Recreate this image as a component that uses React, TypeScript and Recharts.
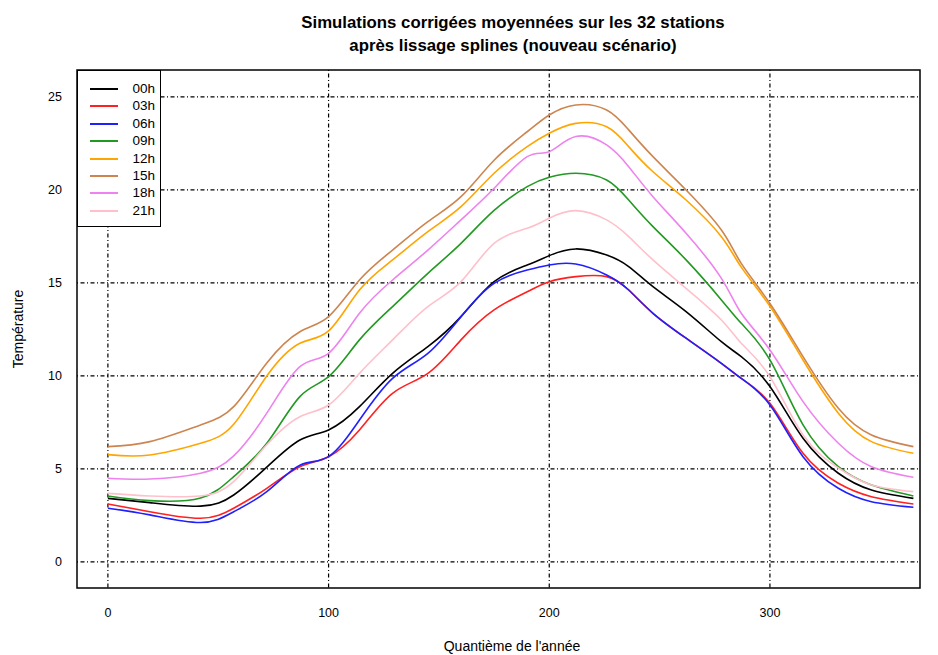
import React from "react";
import {
  LineChart,
  Line,
  XAxis,
  YAxis,
  CartesianGrid,
  ReferenceArea,
} from "recharts";

// day of year (quantième) at which each series is sampled
const days = [0, 19, 42, 57, 72, 87, 100, 114, 129, 145, 160, 175, 190, 200, 212, 226, 236, 247, 262, 278, 287, 300, 315, 331, 346, 365];

const h00 = [3.42, 3.19, 3.0, 3.6, 5.1, 6.56, 7.1, 8.35, 10.14, 11.58, 13.19, 15.07, 15.97, 16.47, 16.83, 16.5, 15.88, 14.8, 13.46, 11.84, 11.04, 9.43, 6.65, 4.77, 3.87, 3.42];
const h03 = [3.12, 2.7, 2.35, 2.89, 3.96, 5.12, 5.66, 7.1, 9.07, 10.14, 11.94, 13.55, 14.53, 15.07, 15.34, 15.34, 14.62, 13.37, 12.03, 10.68, 9.87, 8.53, 5.84, 4.23, 3.51, 3.12];
const h06 = [2.89, 2.53, 2.12, 2.7, 3.78, 5.2, 5.66, 7.63, 9.87, 11.22, 13.19, 14.98, 15.7, 15.97, 16.02, 15.43, 14.62, 13.37, 12.03, 10.68, 9.87, 8.44, 5.66, 3.96, 3.24, 2.94];
const h09 = [3.55, 3.3, 3.44, 4.59, 6.38, 8.89, 9.96, 11.94, 13.73, 15.52, 17.13, 18.9, 20.18, 20.68, 20.9, 20.54, 19.46, 18.03, 16.24, 14.09, 12.83, 10.86, 7.37, 5.12, 4.14, 3.55];
const h12 = [5.77, 5.75, 6.38, 7.4, 10.0, 11.76, 12.42, 14.62, 16.24, 17.76, 19.1, 20.9, 22.33, 23.05, 23.58, 23.4, 22.33, 20.98, 19.46, 17.49, 15.85, 13.75, 10.86, 8.0, 6.47, 5.84];
const h15 = [6.2, 6.47, 7.37, 8.35, 10.7, 12.38, 13.19, 15.16, 16.77, 18.3, 19.64, 21.6, 23.13, 24.03, 24.57, 24.3, 23.23, 21.79, 20.0, 17.85, 16.05, 13.9, 11.04, 8.26, 6.83, 6.2];
const h18 = [4.5, 4.46, 4.77, 5.7, 8.0, 10.5, 11.22, 13.37, 15.16, 16.77, 18.39, 20.09, 21.79, 22.06, 22.87, 22.42, 21.25, 19.64, 17.67, 15.25, 13.37, 11.4, 8.62, 6.38, 5.12, 4.55];
const h21 = [3.69, 3.55, 3.55, 4.32, 6.3, 7.81, 8.44, 10.14, 11.94, 13.73, 15.07, 17.13, 17.94, 18.48, 18.89, 18.39, 17.49, 16.24, 14.71, 13.01, 11.76, 9.96, 6.83, 5.05, 4.14, 3.78];

const seriesNames = ["00h", "03h", "06h", "09h", "12h", "15h", "18h", "21h"];
const seriesValues = [h00, h03, h06, h09, h12, h15, h18, h21];
const seriesColors = ["#000000", "#ff2020", "#2020ff", "#229922", "#ffa500", "#cd8550", "#ee82ee", "#ffc0cb"];

const xTicks = [0, 100, 200, 300];
const yTicks = [0, 5, 10, 15, 20, 25];

const X_DOMAIN: [number, number] = [-14, 368];
const Y_DOMAIN: [number, number] = [-1.4, 26.45];

const data = days.map((d, i) => {
  const row: Record<string, number> = { day: d };
  seriesNames.forEach((name, k) => {
    row[name] = seriesValues[k][i];
  });
  return row;
});

const FONT = "'Liberation Sans', Arial, Helvetica, sans-serif";
const gridDash = "1 2.5 4 2.5";

export default function App() {
  return (
    <div
      style={{
        position: "absolute",
        left: 0,
        top: 0,
        width: 938,
        height: 655,
        background: "#fff",
        fontFamily: FONT,
        color: "#000",
      }}
    >
      <div
        style={{
          position: "absolute",
          left: 0,
          width: 1026,
          top: 11,
          textAlign: "center",
          fontWeight: "bold",
          fontSize: 16.8,
          lineHeight: "23px",
        }}
      >
        Simulations corrigées moyennées sur les 32 stations
        <br />
        après lissage splines (nouveau scénario)
      </div>

      <LineChart
        width={938}
        height={655}
        data={data}
        margin={{ top: 70, right: 18, left: 0, bottom: 0 }}
      >
        <CartesianGrid
          stroke="#000"
          strokeWidth={1.2}
          strokeDasharray={gridDash}
          horizontalValues={yTicks}
          verticalValues={xTicks}
        />
        <XAxis
          type="number"
          dataKey="day"
          domain={X_DOMAIN}
          ticks={xTicks}
          allowDataOverflow
          height={67}
          tickSize={0}
          tickMargin={20}
          axisLine={false}
          tickLine={false}
          tick={{ fill: "#000", fontSize: 12.5, fontFamily: FONT }}
        />
        <YAxis
          type="number"
          domain={Y_DOMAIN}
          ticks={yTicks}
          allowDataOverflow
          width={77}
          tickSize={0}
          tickMargin={15}
          axisLine={false}
          tickLine={false}
          tick={{ fill: "#000", fontSize: 12.5, fontFamily: FONT }}
        />
        {seriesNames.map((name, k) => (
          <Line
            key={name}
            type="natural"
            dataKey={name}
            stroke={seriesColors[k]}
            strokeWidth={1.6}
            dot={false}
            isAnimationActive={false}
          />
        ))}
        <ReferenceArea
          x1={X_DOMAIN[0]}
          x2={X_DOMAIN[1]}
          y1={Y_DOMAIN[0]}
          y2={Y_DOMAIN[1]}
          fill="none"
          fillOpacity={0}
          stroke="#000"
          strokeWidth={1.5}
        />
      </LineChart>

      {/* legend box, top-left corner of the plot */}
      <div
        style={{
          position: "absolute",
          left: 77,
          top: 70,
          width: 84,
          height: 157,
          boxSizing: "border-box",
          border: "1.5px solid #000",
          background: "#fff",
          paddingTop: 9,
        }}
      >
        {seriesNames.map((name, k) => (
          <div
            key={name}
            style={{
              position: "relative",
              height: 17.4,
              fontSize: 13.5,
              lineHeight: "17.4px",
            }}
          >
            <div
              style={{
                position: "absolute",
                left: 12,
                top: 8,
                width: 28,
                height: 2,
                background: seriesColors[k],
              }}
            />
            <div style={{ position: "absolute", right: 5, top: 0 }}>{name}</div>
          </div>
        ))}
      </div>

      <div
        style={{
          position: "absolute",
          left: 412,
          width: 200,
          top: 638,
          textAlign: "center",
          fontSize: 14,
        }}
      >
        Quantième de l'année
      </div>
      <div
        style={{
          position: "absolute",
          left: 18 - 60,
          top: 330 - 9,
          width: 120,
          textAlign: "center",
          fontSize: 14,
          transform: "rotate(-90deg)",
        }}
      >
        Température
      </div>
    </div>
  );
}
